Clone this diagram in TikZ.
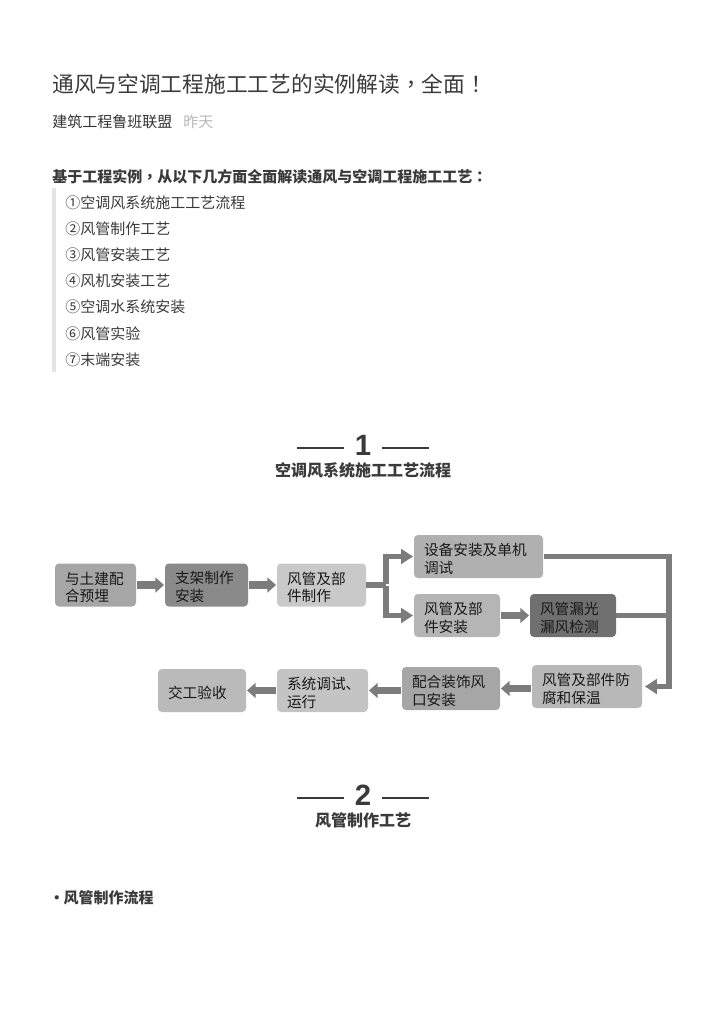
\documentclass[tikz,border=0pt]{standalone}
\usepackage{fontspec}
\usepackage{xcolor}
\usetikzlibrary{arrows.meta}
\setmainfont{Noto Sans CJK SC}
\newfontfamily\puncfont{Noto Sans CJK TC}
\newfontfamily\digitfont{Liberation Sans}
\definecolor{inkdark}{HTML}{3A3A3A}
\definecolor{linegray}{HTML}{7C7C7C}
\tikzset{
  pagetext/.style={anchor=west, inner sep=0pt, text=inkdark, font=\fontsize{11.25pt}{13pt}\selectfont},
  sectitle/.style={inner sep=0pt, text=inkdark, font=\fontsize{12pt}{14pt}\selectfont\bfseries},
  secnum/.style={inner sep=0pt, text=inkdark, font=\fontsize{22pt}{24pt}\digitfont\bfseries},
  secline/.style={draw=inkdark, line width=0.8pt},
  flowbox/.style={rounded corners=3pt, minimum height=32.25pt, inner xsep=7.5pt, inner ysep=0pt, align=left, text=black!90, font=\fontsize{11pt}{13.3pt}\selectfont, execute at begin node={\rule{0pt}{12.7pt}}},
  flowline/.style={draw=linegray, line width=3.8pt},
  flowarrow/.style={flowline, -{Triangle[length=9pt,width=11pt]}, shorten >=0.5pt, shorten <=0.5pt},
  blockarrow/.style={flowarrow, line width=5.5pt, -{Triangle[length=6.5pt,width=11pt]}},
}
\begin{document}
\begin{tikzpicture}[x=0.75pt,y=-0.75pt]
        \useasboundingbox (0,0) rectangle (724,1024);
        % Heading lines
        \node[pagetext, font=\fontsize{16.3pt}{19pt}\selectfont] (title) at (52,84) {通风与空调工程施工工艺的实例解读{\puncfont ，}全面{\puncfont ！}};
        \node[pagetext, text=black!80] (author) at (52,121.5) {建筑工程鲁班联盟};
        \node[pagetext, text=black!28] (when) at (183,121.5) {昨天};
        \node[pagetext, font=\fontsize{11.25pt}{13pt}\selectfont\bfseries] (intro) at (52,176.5) {基于工程实例{\puncfont ，}从以下几方面全面解读通风与空调工程施工工艺{\puncfont ：}};
        % Quoted list with its side bar
        \fill[black!10] (52,188) rectangle (55.5,372);
        \node[pagetext] (item1) at (65,202.6) {①空调风系统施工工艺流程};
        \node[pagetext] (item2) at (65,228.7) {②风管制作工艺};
        \node[pagetext] (item3) at (65,255) {③风管安装工艺};
        \node[pagetext] (item4) at (65,281) {④风机安装工艺};
        \node[pagetext] (item5) at (65,307) {⑤空调水系统安装};
        \node[pagetext] (item6) at (65,333.5) {⑥风管实验};
        \node[pagetext] (item7) at (65,359.5) {⑦末端安装};
        % Section 1 heading
        \node[secnum] (num1) at (363,445) {1};
        \draw[secline] (297,448) -- (344,448);
        \draw[secline] (382,448) -- (429,448);
        \node[sectitle] (sec1) at (363,470) {空调风系统施工工艺流程};
        % Flow boxes, top row
        \node[flowbox, fill=black!35, text width=45.75pt] (yumai) at (95.5,585) {与土建配\\合预埋};
        \node[flowbox, fill=black!46, text width=47.25pt] (zhijia) at (206.5,585) {支架制作\\安装};
        \node[flowbox, fill=black!21, text width=51.75pt] (zhizuo) at (321.5,585) {风管及部\\件制作};
        \node[flowbox, fill=black!31, text width=81.75pt] (shebei) at (478.5,556.5) {设备安装及单机\\调试};
        \node[flowbox, fill=black!29, text width=49.5pt] (anzhuang) at (457,615.5) {风管及部\\件安装};
        \node[flowbox, fill=black!56, text width=49.5pt] (loufeng) at (573,615.5) {风管漏光\\漏风检测};
        % Flow boxes, bottom row
        \node[flowbox, fill=black!28, text width=67.5pt] (baowen) at (587,686.5) {风管及部件防\\腐和保温};
        \node[flowbox, fill=black!35, text width=58.5pt] (fengkou) at (451,688.5) {配合装饰风\\口安装};
        \node[flowbox, fill=black!23, text width=53.25pt] (tiaoshi) at (322.5,690.5) {系统调试、\\运行};
        \node[flowbox, fill=black!27, text width=51pt] (yanshou) at (202,690.5) {交工验收};
        % Arrows between the boxes
        \coordinate (split) at (386,585);
        \coordinate (turn) at (669,686.5);
        \draw[blockarrow] (yumai) -- (zhijia);
        \draw[blockarrow] (zhijia) -- (zhizuo);
        \draw[flowline] (zhizuo.east) -- (split);
        \draw[flowarrow] (split) |- (shebei.west);
        \draw[flowarrow] (split) |- (anzhuang.west);
        \draw[blockarrow] (anzhuang) -- (loufeng);
        \draw[flowarrow, shorten >=2pt] (shebei.east) -| (turn) -- (baowen.east);
        \draw[flowline] (loufeng.east) -- (loufeng.east -| turn);
        \draw[blockarrow] (baowen.west |- fengkou.west) -- (fengkou.east);
        \draw[blockarrow] (fengkou.west |- tiaoshi.east) -- (tiaoshi.east);
        \draw[blockarrow] (tiaoshi) -- (yanshou);
        % Section 2 heading
        \node[secnum] (num2) at (363,795) {2};
        \draw[secline] (297,798) -- (344,798);
        \draw[secline] (382,798) -- (429,798);
        \node[sectitle] (sec2) at (363,820) {风管制作工艺};
        % Bullet line
        \node[pagetext, font=\fontsize{11.25pt}{13pt}\selectfont\bfseries] (bullet) at (49,898) {•\kern-3pt\ 风管制作流程};
    \end{tikzpicture}
\end{document}
